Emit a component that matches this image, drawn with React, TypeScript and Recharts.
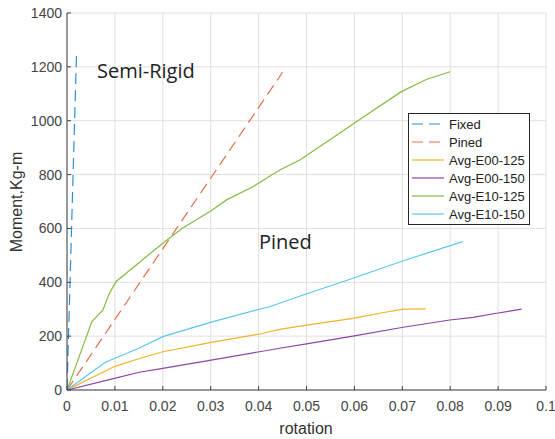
import { LineChart, Line, XAxis, YAxis, CartesianGrid, Label } from 'recharts';

// rotation (x) / moment (y) pairs
const fixedX = [0, 0.002];
const fixedY = [0, 1260];
const pinedX = [0, 0.045];
const pinedY = [0, 1180];
const e00125X = [0, 0.0099, 0.0151, 0.02, 0.0301, 0.0402, 0.0444, 0.05, 0.0597, 0.0653, 0.0702, 0.0749];
const e00125Y = [0, 87, 117, 142, 177, 208, 225, 241, 266, 285, 300, 301];
const e00150X = [0, 0.0099, 0.0151, 0.02, 0.0301, 0.0402, 0.0444, 0.05, 0.0597, 0.0702, 0.0799, 0.0848, 0.0897, 0.0949];
const e00150Y = [0, 43, 66, 80, 111, 142, 155, 171, 200, 233, 260, 270, 285, 300];
const e10125X = [0, 0.0052, 0.0075, 0.0087, 0.0102, 0.014, 0.02, 0.024, 0.03, 0.0333, 0.0388, 0.0444, 0.0486, 0.0569, 0.0604, 0.0698, 0.075, 0.08];
const e10125Y = [0, 254, 297, 353, 402, 458, 545, 600, 665, 706, 755, 817, 854, 953, 996, 1108, 1153, 1182];
const e10150X = [0, 0.008, 0.015, 0.02, 0.0301, 0.0402, 0.0423, 0.0493, 0.0597, 0.0702, 0.0826];
const e10150Y = [0, 103, 155, 198, 252, 300, 309, 353, 415, 480, 551];

const xTicks = [0, 0.01, 0.02, 0.03, 0.04, 0.05, 0.06, 0.07, 0.08, 0.09, 0.1];
const yTicks = [0, 200, 400, 600, 800, 1000, 1200, 1400];

const toPts = (xs: number[], ys: number[]) => xs.map((x, i) => ({ x, y: ys[i] }));

const series = [
  { name: 'Fixed', data: toPts(fixedX, fixedY), color: '#2f8fd2', dash: '11 6' },
  { name: 'Pined', data: toPts(pinedX, pinedY), color: '#e4704c', dash: '11 6' },
  { name: 'Avg-E00-125', data: toPts(e00125X, e00125Y), color: '#f0b429' },
  { name: 'Avg-E00-150', data: toPts(e00150X, e00150Y), color: '#8e45a5' },
  { name: 'Avg-E10-125', data: toPts(e10125X, e10125Y), color: '#84bb45' },
  { name: 'Avg-E10-150', data: toPts(e10150X, e10150Y), color: '#5ac6f0' },
];

const axisColor = '#404040';
const gridColor = '#e0e0e0';
const tickFont = { fontFamily: '"Liberation Sans", Arial, sans-serif', fontSize: 14, fill: '#444' };
const TICK = 4;

const BottomTick = (p: any) => (
  <g>
    <line x1={p.x} x2={p.x} y1={p.y} y2={p.y - TICK} stroke={axisColor} />
    <text x={p.x} y={p.y + 21} textAnchor="middle" {...tickFont}>{String(p.payload.value)}</text>
  </g>
);
const TopTick = (p: any) => <line x1={p.x} x2={p.x} y1={p.y} y2={p.y + TICK} stroke={axisColor} />;
const LeftTick = (p: any) => (
  <g>
    <line x1={p.x} x2={p.x + TICK} y1={p.y} y2={p.y} stroke={axisColor} />
    <text x={p.x - 5} y={p.y + 5} textAnchor="end" {...tickFont}>{String(p.payload.value)}</text>
  </g>
);
const RightTick = (p: any) => <line x1={p.x} x2={p.x - TICK} y1={p.y} y2={p.y} stroke={axisColor} />;

export default function App() {
  return (
    <div style={{ position: 'absolute', left: 0, top: 0, width: 555, height: 439, background: '#fff' }}>
      <LineChart width={555} height={439} margin={{ top: 13, right: 9, bottom: 0, left: 0 }}>
        <CartesianGrid xAxisId="b" yAxisId="l" stroke={gridColor} />
        <XAxis xAxisId="b" type="number" dataKey="x" domain={[0, 0.1]} ticks={xTicks} interval={0}
          allowDataOverflow height={49} tickSize={0} tickMargin={0} tickLine={false}
          axisLine={{ stroke: axisColor }} tick={BottomTick}>
          <Label content={() => (
            <text x={306} y={434} textAnchor="middle" fontFamily='"Liberation Sans", Arial, sans-serif'
              fontSize={16} fill="#333">rotation</text>
          )} />
        </XAxis>
        <XAxis xAxisId="t" orientation="top" type="number" dataKey="x" domain={[0, 0.1]} ticks={xTicks}
          interval={0} allowDataOverflow height={0} tickSize={0} tickMargin={0} tickLine={false}
          axisLine={{ stroke: axisColor }} tick={TopTick} />
        <YAxis yAxisId="l" type="number" domain={[0, 1400]} ticks={yTicks} interval={0} allowDataOverflow
          width={67} tickSize={0} tickMargin={0} tickLine={false} axisLine={{ stroke: axisColor }} tick={LeftTick}>
          <Label content={() => (
            <text x={22} y={202} transform="rotate(-90 22 202)" textAnchor="middle"
              fontFamily='"Liberation Sans", Arial, sans-serif' fontSize={16} fill="#333">Moment,Kg-m</text>
          )} />
        </YAxis>
        <YAxis yAxisId="r" orientation="right" type="number" domain={[0, 1400]} ticks={yTicks} interval={0}
          allowDataOverflow width={0} tickSize={0} tickMargin={0} tickLine={false}
          axisLine={{ stroke: axisColor }} tick={RightTick} />
        {series.map((s) => (
          <Line key={s.name} xAxisId="b" yAxisId="l" data={s.data} dataKey="y" name={s.name}
            type="linear" stroke={s.color} strokeWidth={1.2} strokeDasharray={s.dash} dot={false}
            isAnimationActive={false} />
        ))}
      </LineChart>
      <svg width={555} height={439} style={{ position: 'absolute', left: 0, top: 0, pointerEvents: 'none' }}>
        <g fontFamily='"Open Sans", "Noto Sans", sans-serif' fontSize={20} fill="#222">
          <text x={97} y={78}>Semi-Rigid</text>
          <text x={259} y={249}>Pined</text>
        </g>
        <g>
          <rect x={408.5} y={113.5} width={121} height={111} fill="#fff" stroke="#262626" />
          {series.map((s, i) => {
            const cy = 124 + i * 18;
            return (
              <g key={s.name}>
                <line x1={412} x2={s.dash ? 441 : 444} y1={cy} y2={cy} stroke={s.color}
                  strokeWidth={1.2} strokeDasharray={s.dash} />
                <text x={449} y={cy + 4.5} fontFamily='"Liberation Sans", Arial, sans-serif' fontSize={13}
                  fill="#222">{s.name}</text>
              </g>
            );
          })}
        </g>
      </svg>
    </div>
  );
}
